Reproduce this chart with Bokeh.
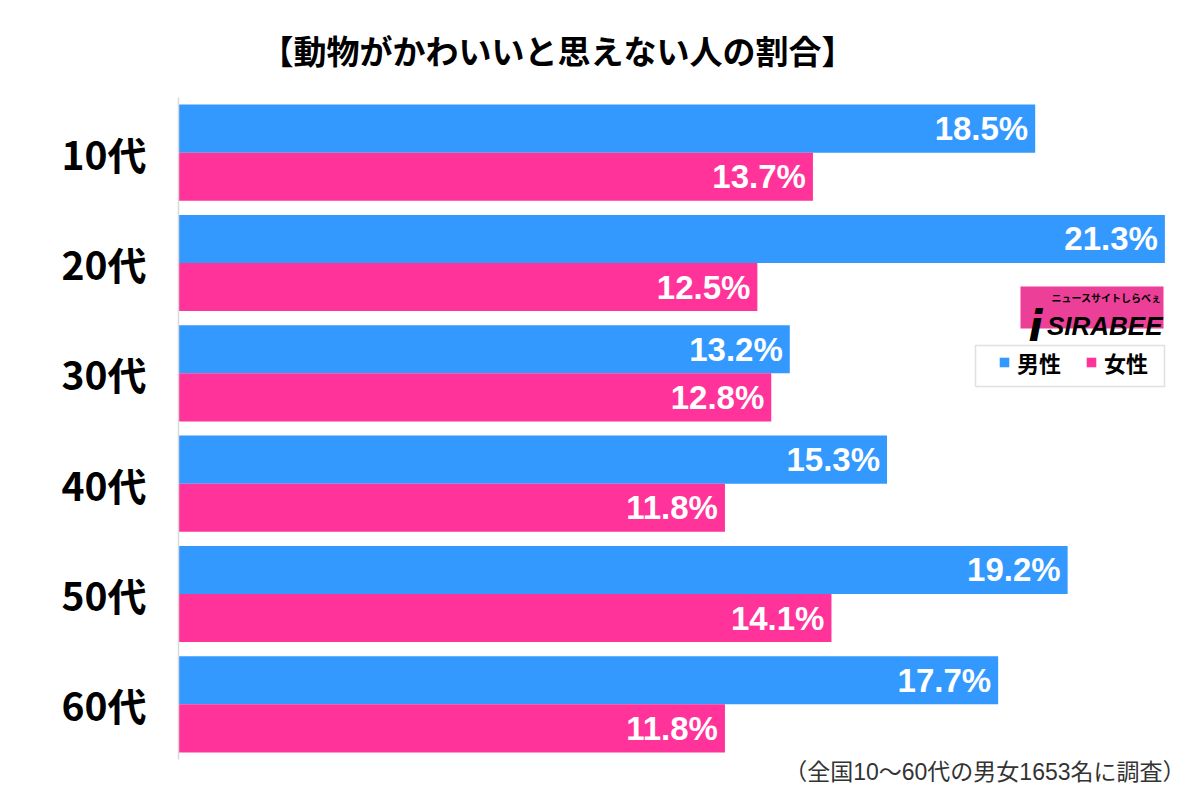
from bokeh.plotting import figure
from bokeh.models import (ColumnDataSource, FactorRange, Range1d, Legend, LegendItem,
                          Label, BoxAnnotation, Title)
from bokeh.transform import dodge
from bokeh.core.properties import value
from bokeh.embed import file_html
from bokeh.resources import INLINE

# ---- data ----
ages = ["10代", "20代", "30代", "40代", "50代", "60代"]
male = [18.5, 21.3, 13.2, 15.3, 19.2, 17.7]
female = [13.7, 12.5, 12.8, 11.8, 14.1, 11.8]
series_names = ["男性", "女性"]
title_text = "【動物がかわいいと思えない人の割合】"
note_text = "（全国10〜60代の男女1653名に調査）"
logo_text = "SIRABEE"
logo_sub = "ニュースサイトしらべぇ"

BLUE = "#3399ff"
PINK = "#ff3399"
LOGO_PINK = "#ec3f98"
JP = "Noto Sans CJK JP"
JP_TIGHT = "Liberation Sans, Noto Sans CJK JP"
NUM = "Liberation Sans"

src = ColumnDataSource(dict(
    age=ages, male=male, female=female,
    male_lbl=[f"{v:.1f}%" for v in male],
    female_lbl=[f"{v:.1f}%" for v in female],
))

p = figure(width=1192, height=790,
           y_range=FactorRange(*reversed(ages)),
           x_range=Range1d(0, 21.81),
           output_backend="svg", toolbar_location=None,
           min_border_left=178, min_border_right=4,
           min_border_top=97, min_border_bottom=31)

BAR_H = 0.436
off = BAR_H / 2
rb = p.hbar(y=dodge("age", off, range=p.y_range), left=0, right="male", height=BAR_H,
            fill_color=BLUE, line_color=None, source=src)
rp = p.hbar(y=dodge("age", -off, range=p.y_range), left=0, right="female", height=BAR_H,
            fill_color=PINK, line_color=None, source=src)

for col, lbl, o in (("male", "male_lbl", off), ("female", "female_lbl", -off)):
    p.text(x=col, y=dodge("age", o, range=p.y_range), text=lbl, source=src,
           x_offset=-7, text_align="right", text_baseline="middle",
           text_color="white", text_font=value(NUM), text_font_style="bold",
           text_font_size="33px")

p.xaxis.visible = False
p.xgrid.visible = False
p.ygrid.visible = False
p.outline_line_color = None

ya = p.yaxis[0]
ya.major_tick_line_color = None
ya.minor_tick_line_color = None
ya.axis_line_color = "#d9d9d9"
ya.axis_line_width = 1.5
ya.major_label_standoff = 26
ya.major_label_text_font = JP
ya.major_label_text_font_style = "bold"
ya.major_label_text_font_size = "39px"
ya.major_label_text_color = "black"

# legend border box
p.add_layout(BoxAnnotation(left=797, right=986, bottom=373, top=414,
                           left_units="screen", right_units="screen",
                           bottom_units="screen", top_units="screen",
                           fill_color=None, line_color="#999999", line_width=1.5))

legend = Legend(items=[LegendItem(label=series_names[0], renderers=[rb]),
                       LegendItem(label=series_names[1], renderers=[rp])],
                orientation="horizontal", location=(820, 381),
                border_line_color=None, background_fill_alpha=0,
                padding=0, margin=0, spacing=24, label_standoff=7,
                glyph_width=12, glyph_height=12, label_height=20,
                label_text_font=JP, label_text_font_style="bold",
                label_text_font_size="22px", label_text_color="black")
p.add_layout(legend)

# logo
p.add_layout(BoxAnnotation(left=842, right=985, bottom=431, top=473,
                           left_units="screen", right_units="screen",
                           bottom_units="screen", top_units="screen",
                           fill_color=LOGO_PINK, fill_alpha=1, line_color=None))
p.add_layout(Label(x=984, y=434, x_units="screen", y_units="screen", text=logo_text,
                   text_align="right", text_baseline="alphabetic",
                   text_font=NUM, text_font_style="bold italic",
                   text_font_size="26px", text_color="black"))
p.add_layout(Label(x=983, y=462, x_units="screen", y_units="screen", text=logo_sub,
                   text_align="right", text_baseline="middle",
                   text_font=JP, text_font_style="bold",
                   text_font_size="10px", text_color="black"))
p.add_layout(Label(x=857, y=433, x_units="screen", y_units="screen", text="i",
                   text_align="center", text_baseline="alphabetic",
                   text_font="DejaVu Sans", text_font_style="bold italic",
                   text_font_size="42px", text_color="black"))

# title and note
p.title = Title(text=title_text, align="left", offset=82, standoff=54,
                vertical_align="bottom",
                text_font=JP_TIGHT, text_font_style="bold",
                text_font_size="33px", text_color="black")
p.add_layout(Title(text=note_text, align="right", offset=3, standoff=-4,
                   vertical_align="middle",
                   text_font=JP_TIGHT, text_font_style="normal",
                   text_font_size="23px", text_color="#333333"), "below")

open("out.html", "w").write(file_html(p, INLINE))
